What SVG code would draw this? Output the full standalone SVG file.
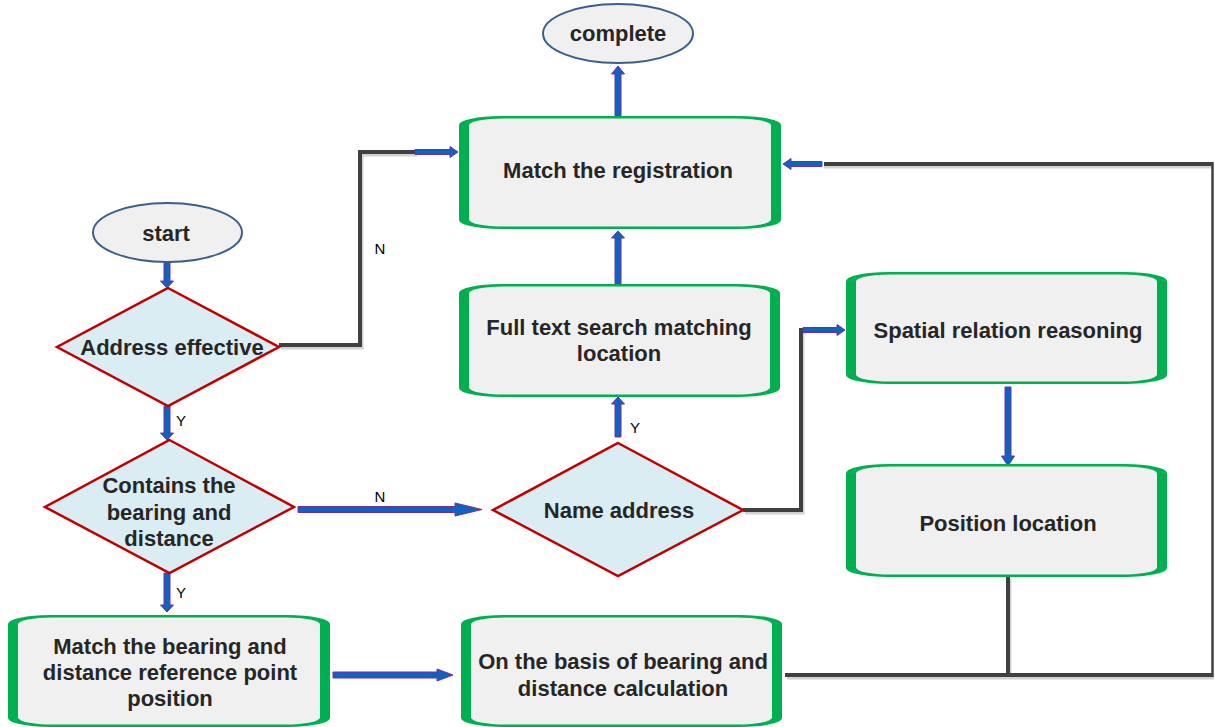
<svg xmlns="http://www.w3.org/2000/svg" width="1215" height="727" viewBox="0 0 1215 727">
<style>
.bo{fill:#00b050}
.bi{fill:#f0f0f0}
.dm{fill:#daedf3;stroke:#c00000;stroke-width:2.5}
.el{fill:#f0f0f0;stroke:#3a5f8f;stroke-width:2}
.t{font-family:"Liberation Sans",Arial,sans-serif;font-weight:bold;font-size:22px;fill:#262626;text-anchor:middle}
.lb{font-family:"Liberation Sans",Arial,sans-serif;font-size:15px;fill:#000;text-anchor:middle}
.ar{fill:#0e62c0;stroke:#7030a0;stroke-width:1}
.gl{fill:none;stroke:#404040;stroke-width:4;stroke-linejoin:miter}
.sh{fill:none;stroke:#d2d2d2;stroke-width:3}
</style>
<rect width="1215" height="727" fill="#fff"/>

<g id="connectors">
  <polyline class="sh" points="281,348 362,348 362,155 417,155"/>
  <polyline class="sh" points="745,513 803,513 803,333 806,333"/>
  <polyline class="sh" points="1010,579 1010,678"/>
  <polyline class="sh" points="787,678 1214,678"/>
  <polyline class="sh" points="1212,167 824,167"/>
  <polyline class="gl" points="279,345 360,345 360,152 417,152"/>
  <polyline class="gl" points="743,510 801,510 801,330 806,330"/>
  <polyline class="gl" points="1008,577 1008,675"/>
  <polyline class="gl" points="785,675 1212,675"/>
  <polyline class="gl" points="1212,164 824,164"/>
  <line x1="1212.5" y1="162" x2="1212.5" y2="677" stroke="#404040" stroke-width="2.5"/>
  <polygon class="ar" points="164,262 170,262 170,281 173.5,281 167,288 160.5,281 164,281"/>
  <polygon class="ar" points="164,406 170,406 170,433 173.5,433 167,440 160.5,433 164,433"/>
  <polygon class="ar" points="164,573 170,573 170,605 173.5,605 167,612 160.5,605 164,605"/>
  <polygon class="ar" points="298,506.5 455,506.5 455,503 482,509.5 455,516 455,512.5 298,512.5"/>
  <polygon class="ar" points="615,437 621,437 621,404 624.5,404 618,397 611.5,404 615,404"/>
  <polygon class="ar" points="615,284 621,284 621,238 624.5,238 618,231 611.5,238 615,238"/>
  <polygon class="ar" points="615,116 621,116 621,74 624.5,74 618,66 611.5,74 615,74"/>
  <polygon class="ar" points="333,672 437,672 437,669 453,675 437,681 437,678 333,678"/>
  <polygon class="ar" points="415,149.5 450,149.5 450,146.5 458,152 450,157.5 450,154.5 415,154.5"/>
  <polygon class="ar" points="803,327.5 837,327.5 837,324.5 845,330 837,335.5 837,332.5 803,332.5"/>
  <polygon class="ar" points="1005,387 1011,387 1011,456 1014.5,456 1008,466 1001.5,456 1005,456"/>
  <polygon class="ar" points="822,161.5 791,161.5 791,158.5 783,164 791,169.5 791,166.5 822,166.5"/>
  <text class="lb" x="380" y="254">N</text>
  <text class="lb" x="181" y="426">Y</text>
  <text class="lb" x="181" y="598">Y</text>
  <text class="lb" x="380" y="502">N</text>
  <text class="lb" x="635" y="433">Y</text>
</g>

<g id="complete">
  <ellipse class="el" cx="618" cy="33.5" rx="75" ry="29.5"/>
  <text class="t" x="618" y="41">complete</text>
</g>

<g id="start">
  <ellipse class="el" cx="167.5" cy="232.5" rx="74.5" ry="29.5"/>
  <text class="t" x="166" y="241">start</text>
</g>

<g id="match-registration">
  <rect class="bo" x="459" y="116" width="322" height="113" rx="42" ry="9"/>
  <rect class="bi" x="469" y="118.5" width="302" height="108" rx="34" ry="7"/>
  <text class="t" x="618" y="178">Match the registration</text>
</g>

<g id="full-text">
  <rect class="bo" x="459" y="284" width="321" height="113" rx="42" ry="9"/>
  <rect class="bi" x="469" y="286.5" width="301" height="108" rx="34" ry="7"/>
  <text class="t" x="619" y="335">Full text search matching</text>
  <text class="t" x="619" y="361">location</text>
</g>

<g id="spatial">
  <rect class="bo" x="846" y="272" width="321" height="112" rx="42" ry="9"/>
  <rect class="bi" x="856" y="274.5" width="301" height="107" rx="34" ry="7"/>
  <text class="t" x="1008" y="338">Spatial relation reasoning</text>
</g>

<g id="position">
  <rect class="bo" x="846" y="464" width="321" height="113" rx="42" ry="9"/>
  <rect class="bi" x="856" y="466.5" width="301" height="108" rx="34" ry="7"/>
  <text class="t" x="1008" y="531">Position location</text>
</g>

<g id="match-bearing">
  <rect class="bo" x="8" y="615" width="322" height="112" rx="42" ry="9"/>
  <rect class="bi" x="18" y="617.5" width="302" height="107" rx="34" ry="7"/>
  <text class="t" x="170" y="654">Match the bearing and</text>
  <text class="t" x="170" y="680">distance reference point</text>
  <text class="t" x="170" y="706">position</text>
</g>

<g id="on-basis">
  <rect class="bo" x="461" y="615" width="321" height="112" rx="42" ry="9"/>
  <rect class="bi" x="471" y="617.5" width="301" height="107" rx="34" ry="7"/>
  <text class="t" x="623" y="669">On the basis of bearing and</text>
  <text class="t" x="623" y="696">distance calculation</text>
</g>

<g id="address-effective">
  <polygon class="dm" points="168,288 279,347 168,406 57,347"/>
  <text class="t" x="172" y="355">Address effective</text>
</g>

<g id="contains">
  <polygon class="dm" points="169.5,440 294,507 169.5,573 45,507"/>
  <text class="t" x="169" y="493">Contains the</text>
  <text class="t" x="169" y="520">bearing and</text>
  <text class="t" x="169" y="546">distance</text>
</g>

<g id="name-address">
  <polygon class="dm" points="618,443 743,510 618,576 493,510"/>
  <text class="t" x="619" y="518">Name address</text>
</g>
</svg>
